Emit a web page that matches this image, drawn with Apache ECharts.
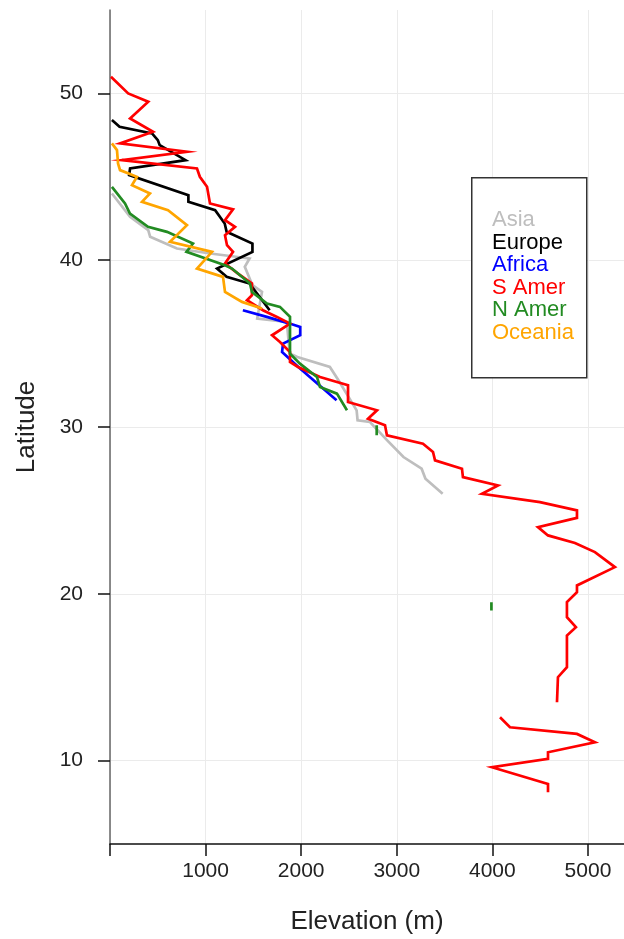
<!DOCTYPE html>
<html>
<head>
<meta charset="utf-8">
<script src="https://cdn.jsdelivr.net/npm/echarts@6/dist/echarts.min.js"></script>
<style>html,body{margin:0;padding:0;background:#fff;}#c{width:624px;height:939px;}</style>
</head>
<body>
<div id="c"></div>
<script>
var xTicks = [0, 1000, 2000, 3000, 4000, 5000];
var xLabels = [1000, 2000, 3000, 4000, 5000];
var yTicks = [10, 20, 30, 40, 50];
var seriesNames = ['Asia', 'Europe', 'Africa', 'S Amer', 'N Amer', 'Oceania'];
var seriesColors = ['#bebebe', '#000000', '#0000ff', '#ff0000', '#228b22', '#ffa500'];
var GAP = ['-', '-'];

var asia = [[20,44.0],[210,42.6],[400,41.8],[420,41.4],[700,40.7],[1050,40.4],[1460,40.1],[1410,39.6],[1490,38.5],[1590,38.1],[1540,36.5],[1850,36.3],[1880,34.4],[1960,34.2],[2300,33.6],[2390,32.8],[2580,31.0],[2590,30.4],[2720,30.3],[2900,29.2],[3070,28.2],[3260,27.5],[3300,26.9],[3480,26.0]];
var europe = [[20,48.4],[100,48.0],[440,47.6],[500,47.2],[520,46.9],[790,46.0],[210,45.5],[200,45.1],[820,43.9],[820,43.5],[1100,43.0],[1200,42.2],[1220,41.7],[1490,41.0],[1490,40.5],[1120,39.5],[1220,39.0],[1460,38.6],[1670,37.0]];
var africa = [[1390,37.0],[1640,36.6],[1880,36.2],[1990,36.0],[1990,35.5],[1810,35.0],[1800,34.5],[1970,33.6],[2370,31.6]];
var samer = [[10,51.0],[190,50.0],[400,49.5],[210,48.5],[450,47.7],[105,47.0],[805,46.5],[125,46.0],[910,45.5],[940,45.0],[1015,44.4],[1046,43.4],[1287,43.05],[1203,42.4],[1308,42.0],[1203,41.5],[1224,40.9],[1287,40.5],[1203,39.8],[1339,39.2],[1485,38.6],[1485,37.9],[1433,37.6],[1600,37.0],[1747,36.6],[1883,36.2],[1695,35.5],[1778,35.1],[1883,34.5],[1883,33.9],[1967,33.6],[2197,33.0],[2490,32.5],[2490,31.5],[2793,31.0],[2699,30.5],[2877,30.1],[2897,29.5],[3274,29.0],[3379,28.5],[3400,28.0],[3682,27.5],[3692,27.0],[4059,26.5],[3891,26.0],[4498,25.5],[4885,25.0],[4885,24.55],[4477,24.0],[4582,23.5],[4864,23.05],[5073,22.5],[5282,21.6],[4885,20.5],[4885,20.1],[4780,19.5],[4780,18.6],[4874,18.0],[4780,17.5],[4780,15.6],[4686,15.0],[4676,13.5],GAP,[4080,12.6],[4184,12.0],[4885,11.6],[5073,11.1],[4582,10.5],[4582,10.1],[3996,9.6],[4582,8.6],[4582,8.1]];
var namer = [[20,44.4],[157,43.4],[209,42.8],[397,42.0],[596,41.7],[868,41.0],[800,40.5],[1203,39.7],[1276,39.5],[1464,38.6],[1485,38.1],[1642,37.4],[1778,37.2],[1883,36.6],[1883,34.4],[1987,33.8],[2165,33.0],[2197,32.4],[2374,32.0],[2479,31.0],GAP,[2790,30.1],[2790,29.5],GAP,[3990,19.5],[3990,19.0]];
var oceania = [[20,47.0],[73,46.6],[84,45.8],[105,45.4],[282,45.0],[230,44.5],[418,44.0],[335,43.5],[607,43.0],[805,42.1],[628,41.1],[1067,40.5],[910,39.5],[1182,39.0],[1203,38.1],[1381,37.5],[1590,37.1]];
var seriesData = [asia, europe, africa, samer, namer, oceania];

var chart = echarts.init(document.getElementById('c'), null, {renderer: 'canvas'});
var FONT = 'Liberation Sans, Arial, sans-serif';

var series = seriesNames.map(function (n, i) {
  return {
    name: n, type: 'line', data: seriesData[i], showSymbol: false, symbol: 'none',
    connectNulls: false, animation: false,
    lineStyle: {color: seriesColors[i], width: 2.7, join: 'miter'},
    z: 2 + i
  };
});

var legendTexts = seriesNames.map(function (n, i) {
  return {
    type: 'text', left: 492, top: 209 + i * 22.6,
    style: {text: n, fill: seriesColors[i], font: '22px ' + FONT}
  };
});

chart.setOption({
  animation: false,
  grid: {left: 110, top: 10, right: 0, bottom: 95, containLabel: false, outerBoundsMode: 'none'},
  xAxis: {
    type: 'value', min: 0, max: 5377,
    name: 'Elevation (m)', nameLocation: 'middle', nameGap: 65,
    nameTextStyle: {fontFamily: FONT, fontSize: 26, color: '#222'},
    axisLine: {show: true, onZero: false, lineStyle: {color: '#111', width: 1.5}},
    axisTick: {show: true, length: 12, customValues: xTicks, lineStyle: {color: '#111', width: 1.5}},
    axisLabel: {customValues: xLabels, margin: 17, fontFamily: FONT, fontSize: 21, color: '#222',
      formatter: function (v) { return String(v); }},
    splitLine: {show: true, lineStyle: {color: '#ebebeb', width: 1}}
  },
  yAxis: {
    type: 'value', min: 5, max: 55,
    name: 'Latitude', nameLocation: 'middle', nameGap: 70, nameRotate: 90,
    nameTextStyle: {fontFamily: FONT, fontSize: 26, color: '#222'},
    axisLine: {show: true, onZero: false, lineStyle: {color: '#666', width: 1.5}},
    axisTick: {show: true, length: 12, customValues: yTicks, lineStyle: {color: '#111', width: 1.5}},
    axisLabel: {customValues: yTicks, margin: 27, fontFamily: FONT, fontSize: 21, color: '#222',
      formatter: function (v) { return String(v); }},
    splitLine: {show: true, lineStyle: {color: '#ebebeb', width: 1}}
  },
  series: series,
  graphic: [{
    type: 'rect', left: 471, top: 177, z: 100,
    shape: {width: 115, height: 200},
    style: {fill: '#fff', stroke: '#333', lineWidth: 1.5}
  }].concat(legendTexts.map(function (t) { t.z = 101; return t; }))
});
</script>
</body>
</html>
